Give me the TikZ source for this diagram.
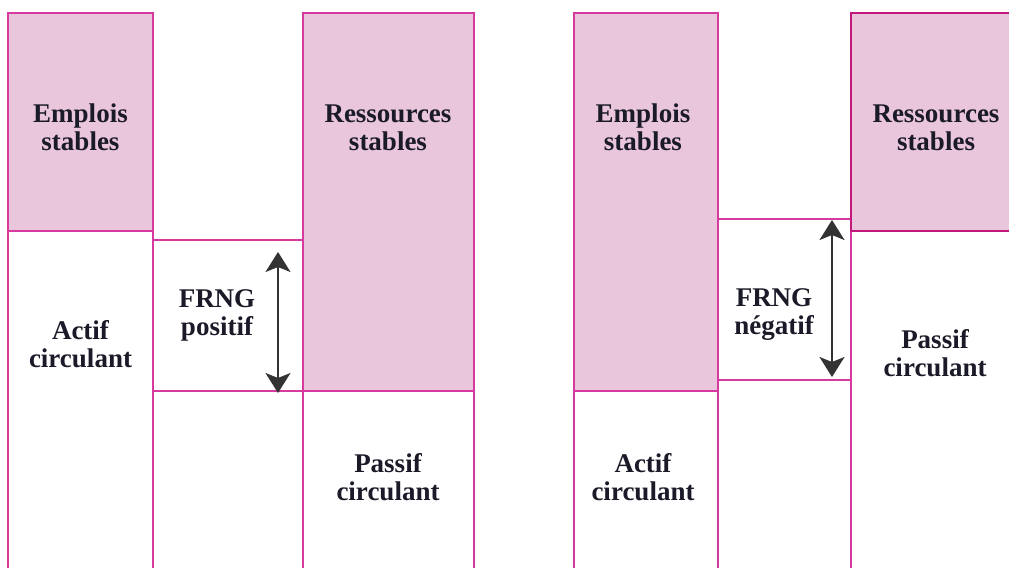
\documentclass[tikz,border=0pt]{standalone}
\usepackage{fontspec}
\setmainfont{Liberation Serif}
\usetikzlibrary{arrows.meta}
\definecolor{pinkfill}{HTML}{EAC6DD}
\definecolor{edge}{HTML}{D63A9E}
\definecolor{edgedark}{HTML}{C2187E}
\definecolor{arrowgray}{HTML}{333333}
\definecolor{ink}{HTML}{1A1A28}
\tikzset{
  block/.style={fill=pinkfill, draw=edge, line width=0.75pt},
  rule/.style={draw=edge, line width=0.75pt},
  heavyblock/.style={fill=pinkfill, draw=edgedark, line width=1.3pt},
  lbl/.style={align=center, inner sep=0pt, text=ink,
    font=\fontsize{13.5}{14}\selectfont\bfseries},
  gap/.style={draw=arrowgray, line width=1pt,
    {Stealth[length=10pt,width=12.5pt,inset=2.5pt]}-{Stealth[length=10pt,width=12.5pt,inset=2.5pt]}}
}
\begin{document}
\begin{tikzpicture}[x=0.5pt,y=-0.5pt]
\useasboundingbox (0,0) rectangle (1009,568);
\clip (0,0) rectangle (1009,568);

% ---- positive working capital ----
\path[block] (8,13) rectangle (153,231);
\path[block] (303,13) rectangle (474,391);
\draw[rule] (8,13) -- (8,570);
\draw[rule] (153,13) -- (153,570);
\draw[rule] (303,13) -- (303,570);
\draw[rule] (474,13) -- (474,570);
\draw[rule] (153,240) -- (303,240);
\draw[rule] (153,391) -- (303,391);

\node[lbl] (es1) at (80.5,127.5) {Emplois\\stables};
\node[lbl] (ac1) at (80.5,344.5) {Actif\\circulant};
\node[lbl] (rs1) at (388,127.5) {Ressources\\stables};
\node[lbl] (pc1) at (388,477.5) {Passif\\circulant};
\node[lbl] (fr1) at (217,315) {FRNG\\positif};
\coordinate (a1top) at (278,252);
\coordinate (a1bot) at (278,393);
\draw[gap] (a1top) -- (a1bot);

% ---- negative working capital ----
\path[block] (574,13) rectangle (718,391);
\draw[rule] (574,13) -- (574,570);
\draw[rule] (718,13) -- (718,570);
\draw[rule] (851,219) -- (851,570);
\draw[rule] (718,219) -- (851,219);
\draw[rule] (718,380) -- (851,380);
\path[heavyblock] (851,13) rectangle (1030,231);

\node[lbl] (es2) at (643,127.5) {Emplois\\stables};
\node[lbl] (ac2) at (643,477.5) {Actif\\circulant};
\node[lbl] (rs2) at (936,127.5) {Ressources\\stables};
\node[lbl] (pc2) at (935,353.5) {Passif\\circulant};
\node[lbl] (fr2) at (774,315) {FRNG\\négatif};
\coordinate (a2top) at (832,220);
\coordinate (a2bot) at (832,377);
\draw[gap] (a2top) -- (a2bot);
\end{tikzpicture}
\end{document}
